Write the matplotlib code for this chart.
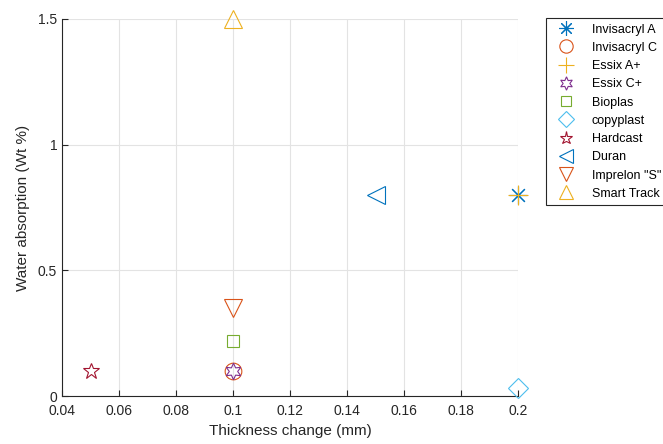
import matplotlib.pyplot as plt

plt.rcParams['font.family'] = ['Liberation Sans', 'DejaVu Sans']

# materials, thickness change (mm), water absorption (Wt %)
materialy = ['Invisacryl A', 'Invisacryl C', 'Essix A+', 'Essix C+', 'Bioplas',
             'copyplast', 'Hardcast', 'Duran', 'Imprelon "S"', 'Smart Track']
tloustka = [0.2, 0.1, 0.2, 0.1, 0.1, 0.2, 0.05, 0.15, 0.1, 0.1]
absorpce = [0.8, 0.1, 0.8, 0.1, 0.22, 0.03, 0.1, 0.8, 0.35, 1.5]

# matlab default color order
barvy = ['#0072BD', '#D95319', '#EDB120', '#7E2F8E', '#77AC30',
         '#4DBEEE', '#A2142F', '#0072BD', '#D95319', '#EDB120']
znacky = [(8, 2, 0), 'o', '+', (6, 1, 0), 's', 'D', '*', '<', 'v', '^']
velikosti = [13, 12, 14, 12, 9, 10, 12, 13, 13, 13]

fig = plt.figure(figsize=(6.63, 4.44), dpi=100)
ax = fig.add_axes([62 / 663, 1 - 396 / 444, (518 - 62) / 663, (396 - 19) / 444])

for i in range(len(materialy)):
    ax.plot(tloustka[i], absorpce[i], linestyle='none', marker=znacky[i],
            markersize=velikosti[i], markerfacecolor='none',
            markeredgecolor=barvy[i], markeredgewidth=0.8,
            label=materialy[i], clip_on=False, zorder=3)

ax.set_xlim(0.04, 0.2)
ax.set_ylim(0, 1.5)
ax.set_xticks([0.04, 0.06, 0.08, 0.1, 0.12, 0.14, 0.16, 0.18, 0.2])
ax.set_xticklabels(['0.04', '0.06', '0.08', '0.1', '0.12', '0.14', '0.16', '0.18', '0.2'])
ax.set_yticks([0, 0.5, 1, 1.5])
ax.set_yticklabels(['0', '0.5', '1', '1.5'])

ax.grid(True, color='#e3e3e3', linewidth=0.8)
ax.set_axisbelow(True)
for strana in ['top', 'right']:
    ax.spines[strana].set_visible(False)
for strana in ['left', 'bottom']:
    ax.spines[strana].set_color('#262626')
    ax.spines[strana].set_linewidth(0.8)
ax.tick_params(direction='in', length=4, width=0.8, colors='#262626',
               labelsize=10, labelcolor='#262626')
ax.tick_params(axis='x', pad=6)

ax.set_xlabel('Thickness change (mm)', fontsize=11, color='#262626', labelpad=4)
ax.set_ylabel('Water absorption (Wt %)', fontsize=11, color='#262626', labelpad=6)

leg = ax.legend(loc='upper left', bbox_to_anchor=(546 / 663, 1 - 18 / 444),
                bbox_transform=fig.transFigure, fontsize=9, frameon=True,
                fancybox=False, edgecolor='#262626', framealpha=1,
                borderaxespad=0, handlelength=2.3, handletextpad=0.9,
                labelspacing=0.5, borderpad=0.45, markerscale=0.8)
leg.get_frame().set_linewidth(0.8)

fig.savefig('out.png', dpi=100)
